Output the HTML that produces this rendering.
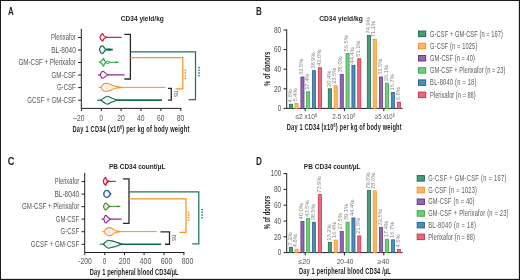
<!DOCTYPE html>
<html><head><meta charset="utf-8"><style>
html,body{margin:0;padding:0;background:#fff;}
svg{display:block;will-change:transform;}
text{font-family:"Liberation Sans", sans-serif;}
</style></head><body>
<svg width="520" height="280" viewBox="0 0 520 280">
<rect width="520" height="280" fill="#fff"/>
<rect x="0" y="0" width="520" height="1" fill="#1a1a1a"/>
<rect x="0" y="0" width="1" height="280" fill="#1a1a1a"/>
<rect x="518.85" y="0" width="1.15" height="280" fill="#1a1a1a"/>
<rect x="0" y="278.85" width="520" height="1.15" fill="#1a1a1a"/>
<text x="8.1" y="15" font-size="10.5" text-anchor="start" font-weight="bold" fill="#231f20" textLength="5.7" lengthAdjust="spacingAndGlyphs">A</text>
<text x="256" y="15.2" font-size="10.5" text-anchor="start" font-weight="bold" fill="#231f20" textLength="5.8" lengthAdjust="spacingAndGlyphs">B</text>
<text x="7.7" y="164.6" font-size="10.5" text-anchor="start" font-weight="bold" fill="#231f20" textLength="6.7" lengthAdjust="spacingAndGlyphs">C</text>
<text x="256" y="164.8" font-size="10.5" text-anchor="start" font-weight="bold" fill="#231f20" textLength="5.9" lengthAdjust="spacingAndGlyphs">D</text>
<path d="M81.3,28.8 V108.4 H181.3" fill="none" stroke="#231f20" stroke-width="1"/>
<path d="M78.1,37.5 H81.3" stroke="#231f20" stroke-width="1"/>
<path d="M78.1,50 H81.3" stroke="#231f20" stroke-width="1"/>
<path d="M78.1,62.5 H81.3" stroke="#231f20" stroke-width="1"/>
<path d="M78.1,75 H81.3" stroke="#231f20" stroke-width="1"/>
<path d="M78.1,87.6 H81.3" stroke="#231f20" stroke-width="1"/>
<path d="M78.1,100.2 H81.3" stroke="#231f20" stroke-width="1"/>
<text x="75.8" y="40.0" font-size="8.2" text-anchor="end" font-weight="normal" fill="#555" textLength="24.9" lengthAdjust="spacingAndGlyphs">Plerixafor</text>
<text x="75.8" y="52.5" font-size="8.2" text-anchor="end" font-weight="normal" fill="#555" textLength="24.6" lengthAdjust="spacingAndGlyphs">BL-8040</text>
<text x="75.8" y="65.0" font-size="8.2" text-anchor="end" font-weight="normal" fill="#555" textLength="57.3" lengthAdjust="spacingAndGlyphs">GM-CSF + Plerixafor</text>
<text x="75.8" y="77.5" font-size="8.2" text-anchor="end" font-weight="normal" fill="#555" textLength="24.2" lengthAdjust="spacingAndGlyphs">GM-CSF</text>
<text x="75.8" y="90.1" font-size="8.2" text-anchor="end" font-weight="normal" fill="#555" textLength="18.9" lengthAdjust="spacingAndGlyphs">G-CSF</text>
<text x="75.8" y="102.7" font-size="8.2" text-anchor="end" font-weight="normal" fill="#555" textLength="48.5" lengthAdjust="spacingAndGlyphs">GCSF + GM-CSF</text>
<path d="M81.4,108.4 V111" stroke="#231f20" stroke-width="1"/>
<text x="78.8" y="120.9" font-size="8.2" text-anchor="middle" font-weight="normal" fill="#555" textLength="11.2" lengthAdjust="spacingAndGlyphs">–20</text>
<path d="M101.3,108.4 V111" stroke="#231f20" stroke-width="1"/>
<text x="101.1" y="120.9" font-size="8.2" text-anchor="middle" font-weight="normal" fill="#555" textLength="3.4" lengthAdjust="spacingAndGlyphs">0</text>
<path d="M121.1,108.4 V111" stroke="#231f20" stroke-width="1"/>
<text x="120.89999999999999" y="120.9" font-size="8.2" text-anchor="middle" font-weight="normal" fill="#555" textLength="7.5" lengthAdjust="spacingAndGlyphs">20</text>
<path d="M141.0,108.4 V111" stroke="#231f20" stroke-width="1"/>
<text x="140.8" y="120.9" font-size="8.2" text-anchor="middle" font-weight="normal" fill="#555" textLength="7.5" lengthAdjust="spacingAndGlyphs">40</text>
<path d="M160.9,108.4 V111" stroke="#231f20" stroke-width="1"/>
<text x="160.70000000000002" y="120.9" font-size="8.2" text-anchor="middle" font-weight="normal" fill="#555" textLength="7.5" lengthAdjust="spacingAndGlyphs">60</text>
<path d="M180.8,108.4 V111" stroke="#231f20" stroke-width="1"/>
<text x="180.60000000000002" y="120.9" font-size="8.2" text-anchor="middle" font-weight="normal" fill="#555" textLength="7.5" lengthAdjust="spacingAndGlyphs">80</text>
<text transform="translate(72.5,131.7) scale(0.58,1)" x="0" y="0" font-size="9.8" fill="#231f20" textLength="201.38" lengthAdjust="spacing" font-weight="bold">Day 1 CD34 (x10<tspan font-size="6.2" dy="-3.2">6</tspan><tspan dy="3.2">) per kg of body weight</tspan></text>
<text x="120.8" y="21.4" font-size="7" text-anchor="start" font-weight="bold" fill="#231f20" textLength="43.0" lengthAdjust="spacingAndGlyphs">CD34 yield/kg</text>
<path d="M84.7,172.9 V252.5 H184.4" fill="none" stroke="#231f20" stroke-width="1"/>
<path d="M81.5,181.6 H84.7" stroke="#231f20" stroke-width="1"/>
<path d="M81.5,194.1 H84.7" stroke="#231f20" stroke-width="1"/>
<path d="M81.5,206.6 H84.7" stroke="#231f20" stroke-width="1"/>
<path d="M81.5,219.1 H84.7" stroke="#231f20" stroke-width="1"/>
<path d="M81.5,231.7 H84.7" stroke="#231f20" stroke-width="1"/>
<path d="M81.5,244.3 H84.7" stroke="#231f20" stroke-width="1"/>
<text x="79.2" y="184.1" font-size="8.2" text-anchor="end" font-weight="normal" fill="#555" textLength="24.4" lengthAdjust="spacingAndGlyphs">Plerixafor</text>
<text x="79.2" y="196.6" font-size="8.2" text-anchor="end" font-weight="normal" fill="#555" textLength="24.8" lengthAdjust="spacingAndGlyphs">BL-8040</text>
<text x="79.2" y="209.1" font-size="8.2" text-anchor="end" font-weight="normal" fill="#555" textLength="57.1" lengthAdjust="spacingAndGlyphs">GM-CSF + Plerixafor</text>
<text x="79.2" y="221.6" font-size="8.2" text-anchor="end" font-weight="normal" fill="#555" textLength="23.4" lengthAdjust="spacingAndGlyphs">GM-CSF</text>
<text x="79.2" y="234.2" font-size="8.2" text-anchor="end" font-weight="normal" fill="#555" textLength="18.6" lengthAdjust="spacingAndGlyphs">G-CSF</text>
<text x="79.2" y="246.8" font-size="8.2" text-anchor="end" font-weight="normal" fill="#555" textLength="48.4" lengthAdjust="spacingAndGlyphs">GCSF + GM-CSF</text>
<path d="M84.8,252.5 V255.1" stroke="#231f20" stroke-width="1"/>
<text x="85.0" y="264.4" font-size="8.2" text-anchor="middle" font-weight="normal" fill="#555" textLength="13.4" lengthAdjust="spacingAndGlyphs">-200</text>
<path d="M104.8,252.5 V255.1" stroke="#231f20" stroke-width="1"/>
<text x="104.5" y="264.4" font-size="8.2" text-anchor="middle" font-weight="normal" fill="#555" textLength="3.4" lengthAdjust="spacingAndGlyphs">0</text>
<path d="M124.5,252.5 V255.1" stroke="#231f20" stroke-width="1"/>
<text x="124.6" y="264.4" font-size="8.2" text-anchor="middle" font-weight="normal" fill="#555" textLength="11.8" lengthAdjust="spacingAndGlyphs">200</text>
<path d="M144.1,252.5 V255.1" stroke="#231f20" stroke-width="1"/>
<text x="145.5" y="264.4" font-size="8.2" text-anchor="middle" font-weight="normal" fill="#555" textLength="11.8" lengthAdjust="spacingAndGlyphs">400</text>
<path d="M164.1,252.5 V255.1" stroke="#231f20" stroke-width="1"/>
<text x="166.6" y="264.4" font-size="8.2" text-anchor="middle" font-weight="normal" fill="#555" textLength="11.8" lengthAdjust="spacingAndGlyphs">600</text>
<path d="M183.9,252.5 V255.1" stroke="#231f20" stroke-width="1"/>
<text x="187.6" y="264.4" font-size="8.2" text-anchor="middle" font-weight="normal" fill="#555" textLength="11.8" lengthAdjust="spacingAndGlyphs">800</text>
<text transform="translate(89.8,274.6) scale(0.58,1)" x="0" y="0" font-size="9.8" fill="#231f20" textLength="152.93" lengthAdjust="spacing" font-weight="bold">Day 1 peripheral blood CD34/µL</text>
<text x="108.9" y="168.6" font-size="7.8" text-anchor="start" font-weight="bold" fill="#231f20" textLength="56.5" lengthAdjust="spacingAndGlyphs">PB CD34 count/µL</text>
<path d="M286.7,29.4 V108.4 H402.6" fill="none" stroke="#231f20" stroke-width="1"/>
<path d="M283.5,108.4 H286.7" stroke="#231f20" stroke-width="1"/>
<text x="281.2" y="111.10000000000001" font-size="8.2" text-anchor="end" font-weight="normal" fill="#555" textLength="3.5" lengthAdjust="spacingAndGlyphs">0</text>
<path d="M283.5,88.80000000000001 H286.7" stroke="#231f20" stroke-width="1"/>
<text x="281.2" y="91.50000000000001" font-size="8.2" text-anchor="end" font-weight="normal" fill="#555" textLength="7.2" lengthAdjust="spacingAndGlyphs">20</text>
<path d="M283.5,69.2 H286.7" stroke="#231f20" stroke-width="1"/>
<text x="281.2" y="71.9" font-size="8.2" text-anchor="end" font-weight="normal" fill="#555" textLength="7.2" lengthAdjust="spacingAndGlyphs">40</text>
<path d="M283.5,49.60000000000001 H286.7" stroke="#231f20" stroke-width="1"/>
<text x="281.2" y="52.30000000000001" font-size="8.2" text-anchor="end" font-weight="normal" fill="#555" textLength="7.2" lengthAdjust="spacingAndGlyphs">60</text>
<path d="M283.5,30.0 H286.7" stroke="#231f20" stroke-width="1"/>
<text x="281.2" y="32.7" font-size="8.2" text-anchor="end" font-weight="normal" fill="#555" textLength="7.2" lengthAdjust="spacingAndGlyphs">80</text>
<rect x="289.30" y="104.29" width="3.1" height="4.11" fill="#4a9a80" stroke="#1c6e54" stroke-width="0.8"/>
<text transform="translate(291.50,102.39) rotate(-90)" x="0" y="0" font-size="5.75" fill="#858585">4.6%</text>
<rect x="295.00" y="103.51" width="3.1" height="4.89" fill="#fcb868" stroke="#f49526" stroke-width="0.8"/>
<text transform="translate(297.20,101.61) rotate(-90)" x="0" y="0" font-size="5.75" fill="#858585">5.4%</text>
<rect x="300.90" y="76.95" width="3.1" height="31.45" fill="#9068ab" stroke="#6c3a8c" stroke-width="0.8"/>
<text transform="translate(303.10,75.05) rotate(-90)" x="0" y="0" font-size="5.75" fill="#858585">32.5%</text>
<rect x="306.60" y="91.75" width="3.1" height="16.65" fill="#78c980" stroke="#3aaa48" stroke-width="0.8"/>
<text transform="translate(308.80,89.85) rotate(-90)" x="0" y="0" font-size="5.75" fill="#858585">17.4%</text>
<rect x="312.40" y="70.68" width="3.1" height="37.72" fill="#5089bb" stroke="#2a6697" stroke-width="0.8"/>
<text transform="translate(314.60,68.78) rotate(-90)" x="0" y="0" font-size="5.75" fill="#858585">38.9%</text>
<rect x="318.30" y="67.64" width="3.1" height="40.76" fill="#e26c7e" stroke="#d2344f" stroke-width="0.8"/>
<text transform="translate(320.50,65.74) rotate(-90)" x="0" y="0" font-size="5.75" fill="#858585">42.0%</text>
<rect x="328.30" y="88.81" width="3.1" height="19.59" fill="#4a9a80" stroke="#1c6e54" stroke-width="0.8"/>
<text transform="translate(330.50,86.91) rotate(-90)" x="0" y="0" font-size="5.75" fill="#858585">20.4%</text>
<rect x="334.20" y="85.77" width="3.1" height="22.63" fill="#fcb868" stroke="#f49526" stroke-width="0.8"/>
<text transform="translate(336.40,83.87) rotate(-90)" x="0" y="0" font-size="5.75" fill="#858585">23.5%</text>
<rect x="340.20" y="74.50" width="3.1" height="33.90" fill="#9068ab" stroke="#6c3a8c" stroke-width="0.8"/>
<text transform="translate(342.40,72.60) rotate(-90)" x="0" y="0" font-size="5.75" fill="#858585">35.0%</text>
<rect x="346.00" y="53.43" width="3.1" height="54.97" fill="#78c980" stroke="#3aaa48" stroke-width="0.8"/>
<text transform="translate(348.20,51.53) rotate(-90)" x="0" y="0" font-size="5.75" fill="#858585">56.5%</text>
<rect x="351.90" y="65.29" width="3.1" height="43.11" fill="#5089bb" stroke="#2a6697" stroke-width="0.8"/>
<text transform="translate(354.10,63.39) rotate(-90)" x="0" y="0" font-size="5.75" fill="#858585">44.4%</text>
<rect x="357.70" y="58.72" width="3.1" height="49.68" fill="#e26c7e" stroke="#d2344f" stroke-width="0.8"/>
<text transform="translate(359.90,56.82) rotate(-90)" x="0" y="0" font-size="5.75" fill="#858585">51.1%</text>
<rect x="367.30" y="35.40" width="3.1" height="73.00" fill="#4a9a80" stroke="#1c6e54" stroke-width="0.8"/>
<text transform="translate(369.50,33.50) rotate(-90)" x="0" y="0" font-size="5.75" fill="#858585">74.9%</text>
<rect x="373.20" y="39.12" width="3.1" height="69.28" fill="#fcb868" stroke="#f49526" stroke-width="0.8"/>
<text transform="translate(375.40,37.22) rotate(-90)" x="0" y="0" font-size="5.75" fill="#858585">71.1%</text>
<rect x="379.40" y="76.95" width="3.1" height="31.45" fill="#9068ab" stroke="#6c3a8c" stroke-width="0.8"/>
<text transform="translate(381.60,75.05) rotate(-90)" x="0" y="0" font-size="5.75" fill="#858585">32.5%</text>
<rect x="385.30" y="83.22" width="3.1" height="25.18" fill="#78c980" stroke="#3aaa48" stroke-width="0.8"/>
<text transform="translate(387.50,81.32) rotate(-90)" x="0" y="0" font-size="5.75" fill="#858585">26.1%</text>
<rect x="391.30" y="92.43" width="3.1" height="15.97" fill="#5089bb" stroke="#2a6697" stroke-width="0.8"/>
<text transform="translate(393.50,90.53) rotate(-90)" x="0" y="0" font-size="5.75" fill="#858585">16.7%</text>
<rect x="397.30" y="102.14" width="3.1" height="6.26" fill="#e26c7e" stroke="#d2344f" stroke-width="0.8"/>
<text transform="translate(399.50,100.24) rotate(-90)" x="0" y="0" font-size="5.75" fill="#858585">6.8%</text>
<path d="M305.2,108.4 V111.2" stroke="#231f20" stroke-width="1"/>
<path d="M344.4,108.4 V111.2" stroke="#231f20" stroke-width="1"/>
<path d="M383.8,108.4 V111.2" stroke="#231f20" stroke-width="1"/>
<text x="295.4" y="119.30000000000001" font-size="7.2" text-anchor="start" font-weight="normal" fill="#555" textLength="21.9" lengthAdjust="spacingAndGlyphs">≤2 x10<tspan font-size="4.5" dy="-2">6</tspan></text>
<text x="332.3" y="119.30000000000001" font-size="7.2" text-anchor="start" font-weight="normal" fill="#555" textLength="23.1" lengthAdjust="spacingAndGlyphs">2-5 x10<tspan font-size="4.5" dy="-2">6</tspan></text>
<text x="375.0" y="119.30000000000001" font-size="7.2" text-anchor="start" font-weight="normal" fill="#555" textLength="19.7" lengthAdjust="spacingAndGlyphs">≥5 x10<tspan font-size="4.5" dy="-2">6</tspan></text>
<text transform="translate(286.8,130.3) scale(0.58,1)" x="0" y="0" font-size="9.8" fill="#231f20" textLength="197.93" lengthAdjust="spacing" font-weight="bold">Day 1 CD34 (x10<tspan font-size="6.2" dy="-3.2">6</tspan><tspan dy="3.2">) per kg of body weight</tspan></text>
<text x="319.2" y="21.2" font-size="7" text-anchor="start" font-weight="bold" fill="#231f20" textLength="43.6" lengthAdjust="spacingAndGlyphs">CD34 yield/kg</text>
<text transform="translate(269.9,68.90) rotate(-90)" x="0" y="0" font-size="9" font-weight="bold" text-anchor="middle" fill="#231f20" textLength="34.20" lengthAdjust="spacingAndGlyphs">% of donors</text>
<rect x="418.5" y="31.1" width="7.2" height="5.5" fill="#4a9a80" stroke="#1c6e54" stroke-width="1"/>
<text transform="translate(430.1,37) scale(0.68,1)" x="0" y="0" font-size="8.4" fill="#5a5a5a" textLength="107.21" lengthAdjust="spacing">G-CSF + GM-CSF (n = 167)</text>
<rect x="418.5" y="43.3" width="7.2" height="5.5" fill="#fcb868" stroke="#f49526" stroke-width="1"/>
<text transform="translate(430.1,49) scale(0.68,1)" x="0" y="0" font-size="8.4" fill="#5a5a5a" textLength="69.41" lengthAdjust="spacing">G-CSF (n = 1025)</text>
<rect x="418.5" y="55.5" width="7.2" height="5.5" fill="#9068ab" stroke="#6c3a8c" stroke-width="1"/>
<text transform="translate(430.1,61) scale(0.68,1)" x="0" y="0" font-size="8.4" fill="#5a5a5a" textLength="66.03" lengthAdjust="spacing">GM-CSF (n = 40)</text>
<rect x="418.5" y="67.69999999999999" width="7.2" height="5.5" fill="#78c980" stroke="#3aaa48" stroke-width="1"/>
<text transform="translate(430.1,73) scale(0.68,1)" x="0" y="0" font-size="8.4" fill="#5a5a5a" textLength="110.59" lengthAdjust="spacing">GM-CSF + Plerixafor (n = 23)</text>
<rect x="418.5" y="79.9" width="7.2" height="5.5" fill="#5089bb" stroke="#2a6697" stroke-width="1"/>
<text transform="translate(430.1,85) scale(0.68,1)" x="0" y="0" font-size="8.4" fill="#5a5a5a" textLength="68.09" lengthAdjust="spacing">BL-8040 (n = 18)</text>
<rect x="418.5" y="92.1" width="7.2" height="5.5" fill="#e26c7e" stroke="#d2344f" stroke-width="1"/>
<text transform="translate(430.1,98) scale(0.68,1)" x="0" y="0" font-size="8.4" fill="#5a5a5a" textLength="67.06" lengthAdjust="spacing">Plerixafor (n = 88)</text>
<path d="M286.7,173.0 V252.6 H402.6" fill="none" stroke="#231f20" stroke-width="1"/>
<path d="M283.5,252.6 H286.7" stroke="#231f20" stroke-width="1"/>
<text x="281.2" y="255.29999999999998" font-size="8.2" text-anchor="end" font-weight="normal" fill="#555" textLength="3.5" lengthAdjust="spacingAndGlyphs">0</text>
<path d="M283.5,236.79999999999998 H286.7" stroke="#231f20" stroke-width="1"/>
<text x="281.2" y="239.49999999999997" font-size="8.2" text-anchor="end" font-weight="normal" fill="#555" textLength="7.2" lengthAdjust="spacingAndGlyphs">20</text>
<path d="M283.5,221.0 H286.7" stroke="#231f20" stroke-width="1"/>
<text x="281.2" y="223.7" font-size="8.2" text-anchor="end" font-weight="normal" fill="#555" textLength="7.2" lengthAdjust="spacingAndGlyphs">40</text>
<path d="M283.5,205.2 H286.7" stroke="#231f20" stroke-width="1"/>
<text x="281.2" y="207.89999999999998" font-size="8.2" text-anchor="end" font-weight="normal" fill="#555" textLength="7.2" lengthAdjust="spacingAndGlyphs">60</text>
<path d="M283.5,189.39999999999998 H286.7" stroke="#231f20" stroke-width="1"/>
<text x="281.2" y="192.09999999999997" font-size="8.2" text-anchor="end" font-weight="normal" fill="#555" textLength="7.2" lengthAdjust="spacingAndGlyphs">80</text>
<path d="M283.5,173.6 H286.7" stroke="#231f20" stroke-width="1"/>
<text x="281.2" y="176.29999999999998" font-size="8.2" text-anchor="end" font-weight="normal" fill="#555" textLength="10.4" lengthAdjust="spacingAndGlyphs">100</text>
<rect x="289.30" y="247.31" width="3.1" height="5.29" fill="#4a9a80" stroke="#1c6e54" stroke-width="0.8"/>
<text transform="translate(291.50,245.41) rotate(-90)" x="0" y="0" font-size="5.75" fill="#858585">7.2%</text>
<rect x="295.00" y="249.21" width="3.1" height="3.39" fill="#fcb868" stroke="#f49526" stroke-width="0.8"/>
<text transform="translate(297.20,247.31) rotate(-90)" x="0" y="0" font-size="5.75" fill="#858585">4.8%</text>
<rect x="300.90" y="221.40" width="3.1" height="31.20" fill="#9068ab" stroke="#6c3a8c" stroke-width="0.8"/>
<text transform="translate(303.10,219.50) rotate(-90)" x="0" y="0" font-size="5.75" fill="#858585">40.0%</text>
<rect x="306.60" y="218.63" width="3.1" height="33.97" fill="#78c980" stroke="#3aaa48" stroke-width="0.8"/>
<text transform="translate(308.80,216.73) rotate(-90)" x="0" y="0" font-size="5.75" fill="#858585">43.5%</text>
<rect x="312.40" y="222.27" width="3.1" height="30.33" fill="#5089bb" stroke="#2a6697" stroke-width="0.8"/>
<text transform="translate(314.60,220.37) rotate(-90)" x="0" y="0" font-size="5.75" fill="#858585">38.9%</text>
<rect x="318.30" y="194.62" width="3.1" height="57.98" fill="#e26c7e" stroke="#d2344f" stroke-width="0.8"/>
<text transform="translate(320.50,192.72) rotate(-90)" x="0" y="0" font-size="5.75" fill="#858585">73.9%</text>
<rect x="328.30" y="242.57" width="3.1" height="10.03" fill="#4a9a80" stroke="#1c6e54" stroke-width="0.8"/>
<text transform="translate(330.50,240.67) rotate(-90)" x="0" y="0" font-size="5.75" fill="#858585">13.2%</text>
<rect x="334.20" y="240.04" width="3.1" height="12.56" fill="#fcb868" stroke="#f49526" stroke-width="0.8"/>
<text transform="translate(336.40,238.14) rotate(-90)" x="0" y="0" font-size="5.75" fill="#858585">16.4%</text>
<rect x="340.20" y="231.28" width="3.1" height="21.32" fill="#9068ab" stroke="#6c3a8c" stroke-width="0.8"/>
<text transform="translate(342.40,229.38) rotate(-90)" x="0" y="0" font-size="5.75" fill="#858585">27.5%</text>
<rect x="346.00" y="222.11" width="3.1" height="30.49" fill="#78c980" stroke="#3aaa48" stroke-width="0.8"/>
<text transform="translate(348.20,220.21) rotate(-90)" x="0" y="0" font-size="5.75" fill="#858585">39.1%</text>
<rect x="351.90" y="217.92" width="3.1" height="34.68" fill="#5089bb" stroke="#2a6697" stroke-width="0.8"/>
<text transform="translate(354.10,216.02) rotate(-90)" x="0" y="0" font-size="5.75" fill="#858585">44.4%</text>
<rect x="357.70" y="235.94" width="3.1" height="16.66" fill="#e26c7e" stroke="#d2344f" stroke-width="0.8"/>
<text transform="translate(359.90,234.04) rotate(-90)" x="0" y="0" font-size="5.75" fill="#858585">21.6%</text>
<rect x="367.30" y="190.59" width="3.1" height="62.01" fill="#4a9a80" stroke="#1c6e54" stroke-width="0.8"/>
<text transform="translate(369.50,188.69) rotate(-90)" x="0" y="0" font-size="5.75" fill="#858585">79.0%</text>
<rect x="373.20" y="190.91" width="3.1" height="61.69" fill="#fcb868" stroke="#f49526" stroke-width="0.8"/>
<text transform="translate(375.40,189.01) rotate(-90)" x="0" y="0" font-size="5.75" fill="#858585">78.6%</text>
<rect x="379.40" y="227.32" width="3.1" height="25.28" fill="#9068ab" stroke="#6c3a8c" stroke-width="0.8"/>
<text transform="translate(381.60,225.42) rotate(-90)" x="0" y="0" font-size="5.75" fill="#858585">32.5%</text>
<rect x="385.30" y="239.25" width="3.1" height="13.35" fill="#78c980" stroke="#3aaa48" stroke-width="0.8"/>
<text transform="translate(387.50,237.35) rotate(-90)" x="0" y="0" font-size="5.75" fill="#858585">17.4%</text>
<rect x="391.30" y="239.81" width="3.1" height="12.79" fill="#5089bb" stroke="#2a6697" stroke-width="0.8"/>
<text transform="translate(393.50,237.91) rotate(-90)" x="0" y="0" font-size="5.75" fill="#858585">16.7%</text>
<rect x="397.30" y="249.44" width="3.1" height="3.16" fill="#e26c7e" stroke="#d2344f" stroke-width="0.8"/>
<text transform="translate(399.50,247.54) rotate(-90)" x="0" y="0" font-size="5.75" fill="#858585">4.5%</text>
<path d="M305.2,252.6 V255.4" stroke="#231f20" stroke-width="1"/>
<path d="M344.4,252.6 V255.4" stroke="#231f20" stroke-width="1"/>
<path d="M383.8,252.6 V255.4" stroke="#231f20" stroke-width="1"/>
<text x="298.2" y="263.5" font-size="7.2" text-anchor="start" font-weight="normal" fill="#555" textLength="12.0" lengthAdjust="spacingAndGlyphs">≤20</text>
<text x="336.7" y="263.5" font-size="7.2" text-anchor="start" font-weight="normal" fill="#555" textLength="16.8" lengthAdjust="spacingAndGlyphs">20-40</text>
<text x="377.5" y="263.5" font-size="7.2" text-anchor="start" font-weight="normal" fill="#555" textLength="12.1" lengthAdjust="spacingAndGlyphs">≥40</text>
<text transform="translate(298.9,273.9) scale(0.58,1)" x="0" y="0" font-size="9.8" fill="#231f20" textLength="158.45" lengthAdjust="spacing" font-weight="bold">Day 1 peripheral blood CD34 /µL</text>
<text x="303.8" y="168.6" font-size="7.8" text-anchor="start" font-weight="bold" fill="#231f20" textLength="56.8" lengthAdjust="spacingAndGlyphs">PB CD34 count/µL</text>
<text transform="translate(269.9,212.45) rotate(-90)" x="0" y="0" font-size="9" font-weight="bold" text-anchor="middle" fill="#231f20" textLength="33.50" lengthAdjust="spacingAndGlyphs">% of donors</text>
<rect x="417.2" y="175.6" width="7.2" height="5.5" fill="#4a9a80" stroke="#1c6e54" stroke-width="1"/>
<text transform="translate(428.2,181) scale(0.68,1)" x="0" y="0" font-size="8.4" fill="#5a5a5a" textLength="114.85" lengthAdjust="spacing">G-CSF + GM-CSF (n = 167)</text>
<rect x="417.2" y="187.29999999999998" width="7.2" height="5.5" fill="#fcb868" stroke="#f49526" stroke-width="1"/>
<text transform="translate(428.2,193) scale(0.68,1)" x="0" y="0" font-size="8.4" fill="#5a5a5a" textLength="71.76" lengthAdjust="spacing">G-CSF (n = 1023)</text>
<rect x="417.2" y="199.0" width="7.2" height="5.5" fill="#9068ab" stroke="#6c3a8c" stroke-width="1"/>
<text transform="translate(428.2,204) scale(0.68,1)" x="0" y="0" font-size="8.4" fill="#5a5a5a" textLength="68.09" lengthAdjust="spacing">GM-CSF (n = 40)</text>
<rect x="417.2" y="210.7" width="7.2" height="5.5" fill="#78c980" stroke="#3aaa48" stroke-width="1"/>
<text transform="translate(428.2,216) scale(0.68,1)" x="0" y="0" font-size="8.4" fill="#5a5a5a" textLength="118.09" lengthAdjust="spacing">GM-CSF + Plerixafor (n = 23)</text>
<rect x="417.2" y="222.39999999999998" width="7.2" height="5.5" fill="#5089bb" stroke="#2a6697" stroke-width="1"/>
<text transform="translate(428.2,228) scale(0.68,1)" x="0" y="0" font-size="8.4" fill="#5a5a5a" textLength="70.29" lengthAdjust="spacing">BL-8040 (n = 18)</text>
<rect x="417.2" y="234.1" width="7.2" height="5.5" fill="#e26c7e" stroke="#d2344f" stroke-width="1"/>
<text transform="translate(428.2,240) scale(0.68,1)" x="0" y="0" font-size="8.4" fill="#5a5a5a" textLength="68.82" lengthAdjust="spacing">Plerixafor (n = 88)</text>
<path d="M106.5,37.3 H121.7" fill="none" stroke="#c8102e" stroke-width="1.1"/>
<path d="M99.9,37.3 Q100.6,34.699999999999996 102.7,33.5 Q103.4,36.5 106.9,37.3 Q103.4,38.099999999999994 102.7,41.099999999999994 Q100.6,39.9 99.9,37.3 Z" fill="#f5f5fa" stroke="#c8102e" stroke-width="1.1" stroke-linejoin="round"/>
<path d="M105.5,49.6 H112.7" fill="none" stroke="#0f6b4b" stroke-width="1.9"/>
<path d="M99.4,49.6 C99.8,48.0 101,45.800000000000004 102.4,45.800000000000004 C103.7,45.800000000000004 104.3,48.300000000000004 105.8,49.6 C104.3,50.9 103.7,53.4 102.4,53.4 C101,53.4 99.8,51.2 99.4,49.6 Z" fill="#f5f5fa" stroke="#0f6b4b" stroke-width="1.15" stroke-linejoin="round"/>
<ellipse cx="109" cy="49.6" rx="2.2" ry="1.1" fill="#0f6b4b"/>
<path d="M109,62.3 H118.8" fill="none" stroke="#22a845" stroke-width="1.0"/>
<ellipse cx="116.2" cy="62.3" rx="1.5" ry="0.8" fill="#22a845"/>
<path d="M99.3,62.3 Q102.4,61.3 103.5,58.4 Q104.5,61.3 106,62.3 Q104.5,63.3 103.5,66.2 Q102.4,63.3 99.3,62.3 Z" fill="#f5f5fa" stroke="#22a845" stroke-width="1.15" stroke-linejoin="round"/>
<ellipse cx="107.8" cy="62.3" rx="1.8" ry="1.2" fill="#f5f5fa" stroke="#22a845" stroke-width="1.0"/>
<path d="M98,74.8 H100.3 M108,74.8 H124.6" fill="none" stroke="#92278f" stroke-width="1.3"/>
<path d="M100.3,74.8 C100.8,73.0 101.8,71.3 102.8,71.3 C104.3,71.3 105,73.8 108.4,74.8 C105,75.8 104.3,78.3 102.8,78.3 C101.8,78.3 100.8,76.6 100.3,74.8 Z" fill="#f5f5fa" stroke="#92278f" stroke-width="1.1" stroke-linejoin="round"/>
<path d="M98.3,87.35 H101.2 M119,87.35 H165.6" fill="none" stroke="#f7941d" stroke-width="1.0"/>
<path d="M101.2,87.35 C102,85.44999999999999 103,83.44999999999999 104.5,83.44999999999999 L107.5,83.44999999999999 C109.5,83.55 111,84.75 112.5,85.35 C114.5,86.14999999999999 115.5,86.44999999999999 117,86.64999999999999 C118.5,86.85 120,87.14999999999999 121.5,87.35 C120,87.55 118.5,87.85 117,88.05 C115.5,88.25 114.5,88.55 112.5,89.35 C111,89.94999999999999 109.5,91.14999999999999 107.5,91.25 L104.5,91.25 C103,91.25 102,89.25 101.2,87.35 Z" fill="#f5f5fa" stroke="#f7941d" stroke-width="1.1" stroke-linejoin="round"/>
<path d="M105.6,85.35 V89.35 M108.3,85.35 V89.35" fill="none" stroke="#f9c58a" stroke-width="0.6"/>
<path d="M97.2,100.2 H101.5" fill="none" stroke="#0f6b4b" stroke-width="1.2"/>
<path d="M115,100.2 H161.9" fill="none" stroke="#0f6b4b" stroke-width="1.8"/>
<path d="M100.8,100.2 C103,98.7 105.8,96.2 107.3,96.2 C108.8,96.2 110.8,98.2 112.5,98.5 C114.5,98.9 115.5,99.8 117.2,100.2 C115.5,100.60000000000001 114.5,101.5 112.5,101.9 C110.8,102.2 108.8,104.2 107.3,104.2 C105.8,104.2 103,101.7 100.8,100.2 Z" fill="#f5f5fa" stroke="#0f6b4b" stroke-width="1.15" stroke-linejoin="round"/>
<path d="M108,98.0 V102.4" fill="none" stroke="#b9d6cb" stroke-width="0.6"/>
<path d="M108.5,181.35 H115.9" fill="none" stroke="#c8102e" stroke-width="1.1"/>
<path d="M103.3,181.35 Q103.7,178.45 105.7,177.35 Q106.1,180.65 109.0,181.35 Q106.1,182.04999999999998 105.7,185.35 Q103.7,184.25 103.3,181.35 Z" fill="#f5f5fa" stroke="#c8102e" stroke-width="1.1" stroke-linejoin="round"/>
<path d="M103.8,193.9 C103.8,191.70000000000002 105.5,190.4 107,190.4 C108.6,190.4 109.3,192.6 110.8,193.9 C109.3,195.20000000000002 108.6,197.4 107,197.4 C105.5,197.4 103.8,196.1 103.8,193.9 Z" fill="#f5f5fa" stroke="#1a5e9e" stroke-width="1.4" stroke-linejoin="round"/>
<path d="M109.5,206.4 H120.3" fill="none" stroke="#3f9226" stroke-width="1.0"/>
<path d="M117.6,205.3 L120.6,206.4 L117.6,207.5 Z" fill="#3f9226"/>
<path d="M103.4,206.4 C104,205.0 105,202.8 105.8,202.8 C106.5,203.6 108,205.6 110.1,206.4 C108,207.20000000000002 106.5,209.20000000000002 105.8,210.0 C105,210.0 104,207.8 103.4,206.4 Z" fill="#f5f5fa" stroke="#3f9226" stroke-width="1.2" stroke-linejoin="round"/>
<path d="M101.5,219.2 H103.8 M110,219.2 H121.7" fill="none" stroke="#92278f" stroke-width="1.3"/>
<path d="M103.8,219.2 C104.2,217.39999999999998 105,215.39999999999998 105.8,215.39999999999998 C107,215.39999999999998 107.6,218.2 110.6,219.2 C107.6,220.2 107,223.0 105.8,223.0 C105,223.0 104.2,221.0 103.8,219.2 Z" fill="#f5f5fa" stroke="#92278f" stroke-width="1.1" stroke-linejoin="round"/>
<path d="M102,231.6 H104.3 M119.5,231.6 H156.8" fill="none" stroke="#f7941d" stroke-width="1.0"/>
<path d="M104.3,231.6 C105,229.4 107.3,227.6 109.8,227.6 C112,227.6 113.3,229.4 114.8,230.29999999999998 C116.5,231.0 118.5,231.29999999999998 120.5,231.6 C118.5,231.9 116.5,232.2 114.8,232.9 C113.3,233.79999999999998 112,235.6 109.8,235.6 C107.3,235.6 105,233.79999999999998 104.3,231.6 Z" fill="#f4f4fc" stroke="#f7941d" stroke-width="1.1" stroke-linejoin="round"/>
<path d="M108.6,229.0 V234.2 M110.2,229.0 V234.2" fill="none" stroke="#dcdcf4" stroke-width="0.8"/>
<path d="M99.8,244.2 H103.3" fill="none" stroke="#0f6b4b" stroke-width="1.0"/>
<path d="M121,244.2 H161.2" fill="none" stroke="#0f6b4b" stroke-width="1.6"/>
<path d="M103.3,244.2 C105,242.7 107,240.2 108.3,240.2 C110,240.39999999999998 112.5,241.29999999999998 115.2,241.79999999999998 C117.5,242.39999999999998 119.5,243.7 122.2,244.2 C119.5,244.7 117.5,246.0 115.2,246.6 C112.5,247.1 110,248.0 108.3,248.2 C107,248.2 105,245.7 103.3,244.2 Z" fill="#f5f5fa" stroke="#0f6b4b" stroke-width="1.15" stroke-linejoin="round"/>
<path d="M107.8,241.79999999999998 V246.6 M110.5,241.79999999999998 V246.6" fill="none" stroke="#b9d6cb" stroke-width="0.6"/>
<path d="M124.30000000000001,34.3 H130.4 V79.0 H124.30000000000001" fill="none" stroke="#2a2a2a" stroke-width="1.3"/>
<path d="M130.4,51.8 H195.5 V99.69999999999999 H188.5" fill="none" stroke="#1d7a5a" stroke-width="1.25"/>
<path d="M130.4,57.7 H182.8 V88.89999999999999 H175.6" fill="none" stroke="#f7941d" stroke-width="1.25"/>
<path d="M167.9,88.3 H171.3 V100.1 H167.9" fill="none" stroke="#2a2a2a" stroke-width="1.3"/>
<text transform="translate(173.6,93.7) rotate(90)" font-size="6.6" fill="#5e5e5e" text-anchor="middle" textLength="6.4" lengthAdjust="spacingAndGlyphs">ns</text>
<rect x="184.5" y="69.55" width="1.6" height="1.5" fill="#f7941d"/>
<rect x="184.5" y="72.21666666666667" width="1.6" height="1.5" fill="#f7941d"/>
<rect x="184.5" y="74.88333333333333" width="1.6" height="1.5" fill="#f7941d"/>
<rect x="184.5" y="77.55" width="1.6" height="1.5" fill="#f7941d"/>
<rect x="198.2" y="66.85" width="1.6" height="1.5" fill="#3d6fae"/>
<rect x="198.2" y="69.55" width="1.6" height="1.5" fill="#3d6fae"/>
<rect x="198.2" y="72.25" width="1.6" height="1.5" fill="#3d6fae"/>
<rect x="198.2" y="74.95" width="1.6" height="1.5" fill="#3d6fae"/>
<path d="M122.9,178.9 H129.0 V223.4 H122.9" fill="none" stroke="#2a2a2a" stroke-width="1.3"/>
<path d="M129.0,191.9 H198.8 V243.85 H192.1" fill="none" stroke="#1d7a5a" stroke-width="1.25"/>
<path d="M129.0,198.8 H186.0 V232.4 H179.3" fill="none" stroke="#f7941d" stroke-width="1.25"/>
<path d="M160.5,231.8 H169.5 V244.25 H165.0" fill="none" stroke="#2a2a2a" stroke-width="1.3"/>
<text transform="translate(171.5,237.8) rotate(90)" font-size="6.6" fill="#5e5e5e" text-anchor="middle" textLength="6.4" lengthAdjust="spacingAndGlyphs">ns</text>
<rect x="187.79999999999998" y="211.75" width="1.6" height="1.5" fill="#f7941d"/>
<rect x="187.79999999999998" y="214.25" width="1.6" height="1.5" fill="#f7941d"/>
<rect x="187.79999999999998" y="216.75" width="1.6" height="1.5" fill="#f7941d"/>
<rect x="187.79999999999998" y="219.25" width="1.6" height="1.5" fill="#f7941d"/>
<rect x="201.29999999999998" y="208.85" width="1.6" height="1.5" fill="#3d6fae"/>
<rect x="201.29999999999998" y="211.54999999999998" width="1.6" height="1.5" fill="#3d6fae"/>
<rect x="201.29999999999998" y="214.25" width="1.6" height="1.5" fill="#3d6fae"/>
<rect x="201.29999999999998" y="216.95" width="1.6" height="1.5" fill="#3d6fae"/>
</svg>
</body></html>
